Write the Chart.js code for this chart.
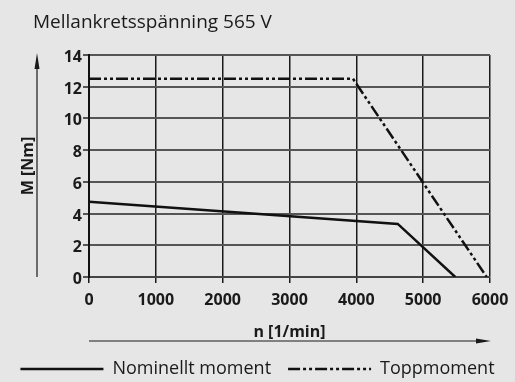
<!DOCTYPE html>
<html>
<head>
<meta charset="utf-8">
<script src="https://cdn.jsdelivr.net/npm/chart.js@4.4.1/dist/chart.umd.min.js"></script>
<style>
  html, body { margin: 0; padding: 0; background: #e6e6e6; }
  canvas { display: block; }
</style>
</head>
<body>
<canvas id="grafico" width="515" height="382"></canvas>
<script>
// rubrik och axeltitlar
const rubrik = 'Mellankretsspänning 565 V';
const xTitel = 'n [1/min]';
const yTitel = 'M [Nm]';

// nominellt moment (varvtal / moment)
const nominellVarv = [0, 4620, 5480];
const nominellMoment = [4.75, 3.35, 0];

// toppmoment
const toppVarv = [0, 3950, 5950];
const toppMoment = [12.5, 12.5, 0];

// skalor
const xTicks = [0, 1000, 2000, 3000, 4000, 5000, 6000];
const yTicks = [0, 2, 4, 6, 8, 10, 12, 14];

const serieNamn = ['Nominellt moment', 'Toppmoment'];

const textFarg = '#1a1a1a';
const fetFont = { family: 'Open Sans', size: 16, weight: 'bold' };

function punkter(xs, ys) {
  return xs.map((x, i) => ({ x: x, y: ys[i] }));
}

// rubrik + pilar vid axlarna
const dekor = {
  id: 'dekor',
  afterDraw(chart) {
    const ctx = chart.ctx;
    const a = chart.chartArea;
    ctx.save();
    ctx.fillStyle = textFarg;
    ctx.font = '19px "Open Sans"';
    ctx.textBaseline = 'alphabetic';
    ctx.textAlign = 'left';
    ctx.fillText(rubrik, 33, 28);

    ctx.strokeStyle = textFarg;
    ctx.lineWidth = 1.2;
    // y-pil
    const px = 37;
    ctx.beginPath();
    ctx.moveTo(px, a.bottom);
    ctx.lineTo(px, a.top + 8);
    ctx.stroke();
    ctx.beginPath();
    ctx.moveTo(px, a.top - 2);
    ctx.lineTo(px - 2.5, a.top + 14);
    ctx.lineTo(px + 2.5, a.top + 14);
    ctx.closePath();
    ctx.fill();
    // x-pil
    const py = 341;
    ctx.beginPath();
    ctx.moveTo(a.left, py);
    ctx.lineTo(a.right - 8, py);
    ctx.stroke();
    ctx.beginPath();
    ctx.moveTo(a.right + 1, py);
    ctx.lineTo(a.right - 14, py - 2.5);
    ctx.lineTo(a.right - 14, py + 2.5);
    ctx.closePath();
    ctx.fill();
    ctx.restore();
  }
};

new Chart(document.getElementById('grafico'), {
  type: 'line',
  data: {
    datasets: [
      {
        label: serieNamn[0],
        data: punkter(nominellVarv, nominellMoment),
        borderColor: '#111',
        backgroundColor: '#111',
        borderWidth: 2.5,
        pointRadius: 0,
        tension: 0
      },
      {
        label: serieNamn[1],
        data: punkter(toppVarv, toppMoment),
        borderColor: '#111',
        backgroundColor: '#111',
        borderWidth: 2.5,
        borderDash: [12, 3, 3, 3, 3, 3],
        pointRadius: 0,
        tension: 0
      }
    ]
  },
  options: {
    responsive: false,
    animation: false,
    devicePixelRatio: 1,
    layout: { padding: { top: 55, left: 0, right: 0, bottom: -6 } },
    scales: {
      x: {
        type: 'linear',
        min: 0,
        max: 6000,
        afterBuildTicks: (s) => { s.ticks = xTicks.map(v => ({ value: v })); },
        afterFit: (s) => { s.height = 66; s.paddingRight = 25; },
        grid: { color: '#1a1a1a', lineWidth: 1.5, tickLength: 6 },
        border: { color: '#444', width: 2 },
        ticks: { color: textFarg, font: fetFont, padding: 8, maxRotation: 0, callback: (v) => String(v) },
        title: { display: true, text: xTitel, color: textFarg, font: fetFont, padding: { top: 0, bottom: 1 } }
      },
      y: {
        min: 0,
        max: 14,
        afterBuildTicks: (s) => { s.ticks = yTicks.map(v => ({ value: v })); },
        afterFit: (s) => { s.width = 89; },
        grid: { color: '#555', lineWidth: 2, tickLength: 6 },
        border: { color: '#111', width: 2 },
        ticks: { color: textFarg, font: fetFont, padding: 1, labelOffset: 2.5 },
        title: { display: true, text: yTitel, color: textFarg, font: fetFont, padding: { top: 19, bottom: 0 } }
      }
    },
    plugins: {
      title: { display: false },
      tooltip: { enabled: false },
      legend: {
        position: 'bottom',
        labels: {
          usePointStyle: true,
          pointStyle: 'line',
          pointStyleWidth: 83,
          color: textFarg,
          padding: 17,
          font: { family: 'Open Sans', size: 18 },
          generateLabels: (chart) => {
            const items = Chart.defaults.plugins.legend.labels.generateLabels(chart);
            items.forEach((it) => {
              const ds = chart.data.datasets[it.datasetIndex];
              it.lineDash = ds.borderDash || [];
              it.lineWidth = ds.borderWidth;
              it.strokeStyle = ds.borderColor;
            });
            return items;
          }
        }
      }
    }
  },
  plugins: [dekor]
});
</script>
</body>
</html>
